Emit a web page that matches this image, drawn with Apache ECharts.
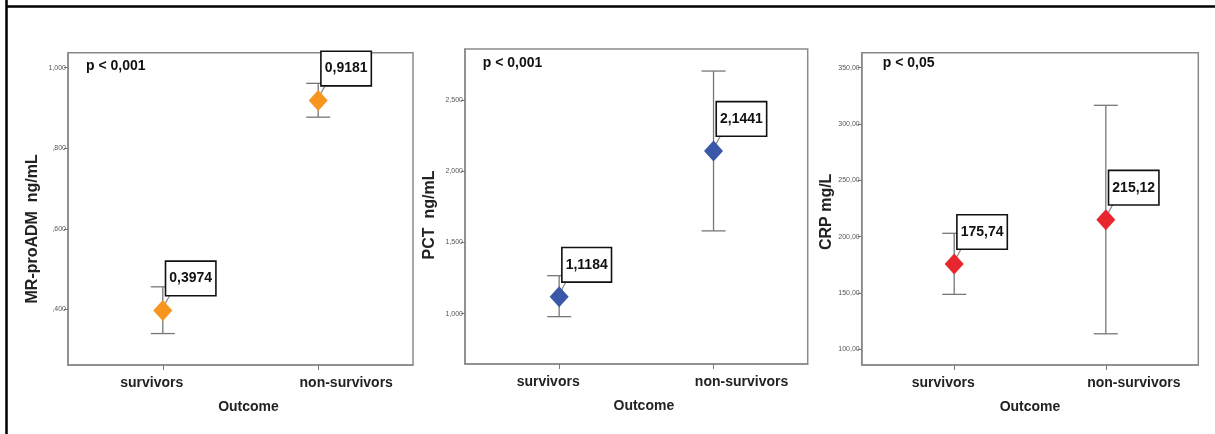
<!DOCTYPE html>
<html>
<head>
<meta charset="utf-8">
<style>html,body{margin:0;padding:0;background:#fff;}#c{width:1215px;height:434px;}</style>
<script src="https://cdn.jsdelivr.net/npm/echarts@6/dist/echarts.min.js"></script>
</head>
<body>
<div id="c"></div>
<script>
// ---- data ----
const categories = ['survivors', 'non-survivors'];
const xTitle = 'Outcome';

const mrMean = [0.3974, 0.9181];
const mrLow = [0.340, 0.877];
const mrHigh = [0.456, 0.961];
const mrTicks = [0.4, 0.6, 0.8, 1.0];

const pctMean = [1.1184, 2.1441];
const pctLow = [0.979, 1.582];
const pctHigh = [1.267, 2.706];
const pctTicks = [1.0, 1.5, 2.0, 2.5];

const crpMean = [175.74, 215.12];
const crpLow = [148.8, 113.8];
const crpHigh = [203.0, 316.6];
const crpTicks = [100, 150, 200, 250, 300, 350];

const yTitles = ['MR-proADM  ng/mL', 'PCT  ng/mL', 'CRP mg/L'];
const pTexts = ['p < 0,001', 'p < 0,001', 'p < 0,05'];

// ---- layout / style ----
const narrow = "'Liberation Sans Narrow','Arial Narrow','Liberation Sans',Arial,sans-serif";
const sans = "'Liberation Sans',Arial,sans-serif";
const panels = [
  {grid:{left:68, top:52.7, width:345, height:312.3}, ymin:0.262, ymax:1.037, mean:mrMean, low:mrLow, high:mrHigh, ticks:mrTicks,
   tickFmt:v=>v.toFixed(3).replace('.', ',').replace(/^0/, ''), valFmt:v=>v.toFixed(4).replace('.', ','), color:'#F7961E', namePad:[0,40,0,0], xNamePad:[0,0,0,16], p:{x:86,y:59}},
  {grid:{left:465, top:49, width:342.7, height:315}, ymin:0.646, ymax:2.861, mean:pctMean, low:pctLow, high:pctHigh, ticks:pctTicks,
   tickFmt:v=>v.toFixed(3).replace('.', ','), valFmt:v=>v.toFixed(4).replace('.', ','), color:'#3A57A8', namePad:[0,17,0,0], xNamePad:[0,0,0,15], p:{x:482.7,y:56}},
  {grid:{left:861.7, top:52.7, width:336.6, height:312.3}, ymin:86.1, ymax:363.3, mean:crpMean, low:crpLow, high:crpHigh, ticks:crpTicks,
   tickFmt:v=>v.toFixed(2).replace('.', ','), valFmt:v=>v.toFixed(2).replace('.', ','), color:'#E8262E', namePad:[0,6,0,0], xNamePad:[0,0,0,0], p:{x:882.7,y:56}}
];

const grid = [], xAxis = [], yAxis = [], series = [], title = [];
panels.forEach((p, i) => {
  grid.push(Object.assign({show:true, borderColor:'#8a8a8a', borderWidth:1.5, backgroundColor:'transparent'}, p.grid));
  xAxis.push({
    type:'value', gridIndex:i, min:-0.61, max:1.61,
    name:xTitle, nameLocation:'middle', nameGap:35,
    nameTextStyle:{fontFamily:narrow, fontWeight:'bold', fontSize:14, color:'#222', padding:p.xNamePad, verticalAlign:'top'},
    axisLine:{show:true, onZero:false, lineStyle:{color:'#8a8a8a', width:1.5}},
    splitLine:{show:false},
    axisTick:{show:true, length:5, customValues:[0,1], lineStyle:{color:'#777'}},
    axisLabel:{customValues:[0,1], margin:11, fontFamily:narrow, fontWeight:'bold', fontSize:14, color:'#222',
      formatter:v => v === 0 ? '{l|' + categories[0] + '}' : '{r|' + categories[1] + '}',
      rich:{l:{fontFamily:narrow, fontWeight:'bold', fontSize:14, color:'#222', padding:[0,22,0,0]},
            r:{fontFamily:narrow, fontWeight:'bold', fontSize:14, color:'#222', padding:[0,0,0,56]}}}
  });
  yAxis.push({
    type:'value', gridIndex:i, min:p.ymin, max:p.ymax,
    name:yTitles[i], nameLocation:'middle', nameGap:27, nameRotate:90,
    nameTextStyle:{fontFamily:sans, fontWeight:'bold', fontSize:16, color:'#222', padding:p.namePad},
    axisLine:{show:true, onZero:false, lineStyle:{color:'#8a8a8a', width:1.5}},
    splitLine:{show:false},
    axisTick:{show:true, length:4, customValues:p.ticks, lineStyle:{color:'#777'}},
    axisLabel:{customValues:p.ticks, margin:2, fontFamily:sans, fontSize:7, color:'#555', formatter:p.tickFmt}
  });
  title.push({text:pTexts[i], left:p.p.x, top:p.p.y, padding:0,
    textStyle:{fontFamily:narrow, fontWeight:'bold', fontSize:14, color:'#111'}});

  // error bars + leader lines
  series.push({
    type:'custom', xAxisIndex:i, yAxisIndex:i, z:2,
    data:categories.map((c, k) => [k, p.low[k], p.high[k], p.mean[k]]),
    renderItem:(params, api) => {
      const lo = api.coord([api.value(0), api.value(1)]);
      const hi = api.coord([api.value(0), api.value(2)]);
      const m = api.coord([api.value(0), api.value(3)]);
      const st = {stroke:'#777', lineWidth:1.3};
      const cw = 12;
      return {type:'group', children:[
        {type:'line', shape:{x1:lo[0], y1:lo[1], x2:hi[0], y2:hi[1]}, style:st},
        {type:'line', shape:{x1:lo[0]-cw, y1:lo[1], x2:lo[0]+cw, y2:lo[1]}, style:st},
        {type:'line', shape:{x1:hi[0]-cw, y1:hi[1], x2:hi[0]+cw, y2:hi[1]}, style:st},
        {type:'line', shape:{x1:m[0]+2, y1:m[1]-6, x2:m[0]+8, y2:m[1]-17}, style:{stroke:'#888', lineWidth:1.2}}
      ]};
    }
  });
  // mean markers with value boxes
  series.push({
    type:'scatter', xAxisIndex:i, yAxisIndex:i, z:5,
    symbol:'diamond', symbolSize:[19, 21],
    itemStyle:{color:p.color, opacity:1},
    data:categories.map((c, k) => [k, p.mean[k]]),
    label:{show:true, position:[13, -38], align:'left', verticalAlign:'top',
      formatter:d => p.valFmt(d.value[1]),
      fontFamily:narrow, fontWeight:'bold', fontSize:14, color:'#111', lineHeight:17,
      backgroundColor:'#fff', borderColor:'#111', borderWidth:1.6, padding:[8,3,8,3]},
    emphasis:{disabled:true}
  });
});

const chart = echarts.init(document.getElementById('c'), null, {renderer:'canvas'});
chart.setOption({
  animation:false,
  backgroundColor:'#fff',
  title, grid, xAxis, yAxis, series,
  graphic:[
    {type:'line', shape:{x1:6.5, y1:0, x2:6.5, y2:434}, style:{stroke:'#000', lineWidth:2.5}, silent:true},
    {type:'line', shape:{x1:6, y1:6.5, x2:1215, y2:6.5}, style:{stroke:'#000', lineWidth:2.5}, silent:true}
  ]
});
</script>
</body>
</html>
